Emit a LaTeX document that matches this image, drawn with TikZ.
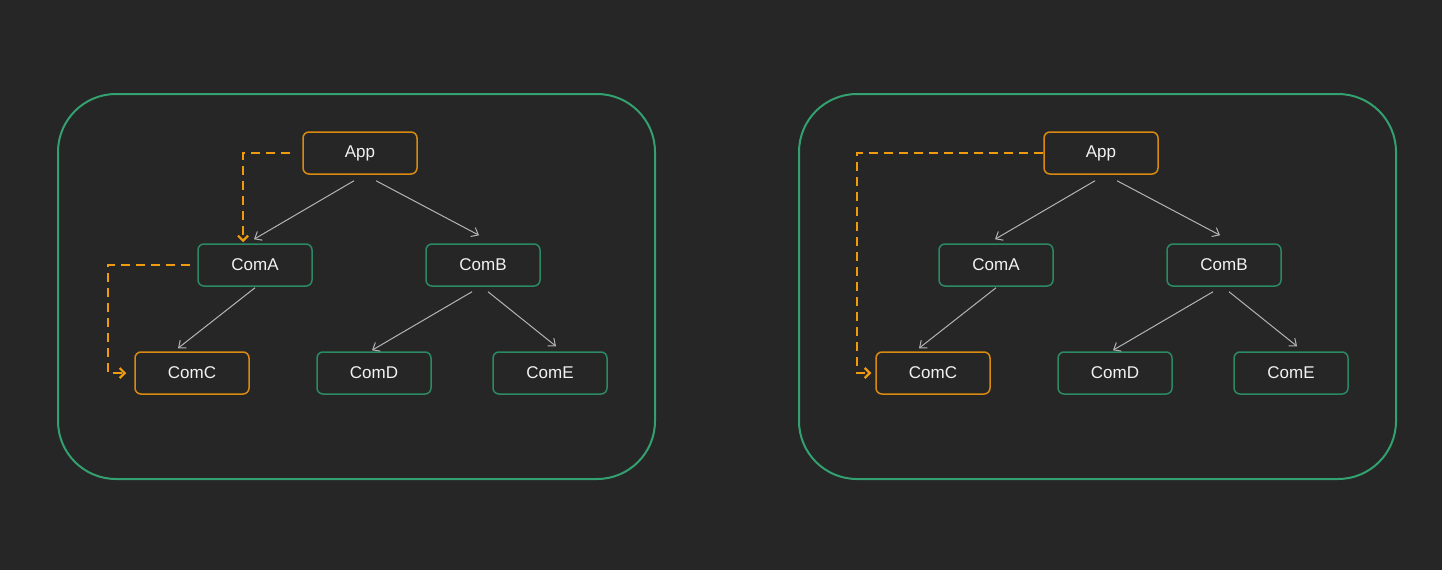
\documentclass[tikz,border=0pt]{standalone}
\usepackage{fontspec}
\setmainfont{Liberation Sans}
\usetikzlibrary{arrows.meta}
\definecolor{bg}{HTML}{262626}
\definecolor{panelgreen}{HTML}{33A06F}
\definecolor{boxgreen}{HTML}{2B8A63}
\definecolor{boxorange}{HTML}{D98A10}
\definecolor{dashorange}{HTML}{F09A10}
\definecolor{arrowgray}{HTML}{B4B4B4}
\definecolor{txt}{HTML}{F2F2F2}
\tikzset{
  panel/.style={draw=panelgreen, line width=2pt, rounded corners=58pt},
  gbox/.style={draw=boxgreen, line width=1.5pt, rounded corners=6pt, minimum width=114pt, minimum height=42pt, inner sep=0pt, text=txt, font=\fontsize{17pt}{20pt}\selectfont},
  obox/.style={gbox, draw=boxorange},
  tree/.style={draw=arrowgray, line width=1pt, -{Straight Barb[length=6pt,width=10pt]}},
  pass/.style={draw=dashorange, line width=2.2pt, dash pattern=on 9pt off 6pt, -{Straight Barb[length=5pt,width=10pt]}}
}
\begin{document}
\begin{tikzpicture}[x=1pt,y=-1pt]
\fill[bg] (0,0) rectangle (1442,570);
\useasboundingbox (0,0) rectangle (1442,570);
% left panel
\draw[panel] (58,94) rectangle (655,479);
\node[obox] (appL) at (360,153) {App};
\node[gbox] (comaL) at (255,265) {ComA};
\node[gbox] (combL) at (483,265) {ComB};
\node[obox] (comcL) at (192,373) {ComC};
\node[gbox] (comdL) at (374,373) {ComD};
\node[gbox] (comeL) at (550,373) {ComE};
\draw[tree] ([xshift=-6pt,yshift=-6pt]appL.south) -- ([xshift=-1pt,yshift=4pt]comaL.north);
\draw[tree] ([xshift=16pt,yshift=-6pt]appL.south) -- ([xshift=-4pt,yshift=8pt]combL.north);
\draw[tree] ([yshift=-1pt]comaL.south) -- ([xshift=-14pt,yshift=3pt]comcL.north);
\draw[tree] ([xshift=-11pt,yshift=-5pt]combL.south) -- ([xshift=-2pt,yshift=1pt]comdL.north);
\draw[tree] ([xshift=5pt,yshift=-5pt]combL.south) -- ([xshift=6pt,yshift=5pt]comeL.north);
\draw[pass] ([xshift=-12pt]appL.west) -| ([xshift=-12pt,yshift=1pt]comaL.north);
\draw[pass] ([xshift=-7pt]comaL.west) -- ++(-82,0) |- ([xshift=-8pt]comcL.west);
% right panel
\draw[panel] (799,94) rectangle (1396,479);
\node[obox] (appR) at (1101,153) {App};
\node[gbox] (comaR) at (996,265) {ComA};
\node[gbox] (combR) at (1224,265) {ComB};
\node[obox] (comcR) at (933,373) {ComC};
\node[gbox] (comdR) at (1115,373) {ComD};
\node[gbox] (comeR) at (1291,373) {ComE};
\draw[tree] ([xshift=-6pt,yshift=-6pt]appR.south) -- ([xshift=-1pt,yshift=4pt]comaR.north);
\draw[tree] ([xshift=16pt,yshift=-6pt]appR.south) -- ([xshift=-4pt,yshift=8pt]combR.north);
\draw[tree] ([yshift=-1pt]comaR.south) -- ([xshift=-14pt,yshift=3pt]comcR.north);
\draw[tree] ([xshift=-11pt,yshift=-5pt]combR.south) -- ([xshift=-2pt,yshift=1pt]comdR.north);
\draw[tree] ([xshift=5pt,yshift=-5pt]combR.south) -- ([xshift=6pt,yshift=5pt]comeR.north);
\draw[pass] (appR.west) -- ++(-186,0) |- ([xshift=-4pt]comcR.west);
\end{tikzpicture}
\end{document}
